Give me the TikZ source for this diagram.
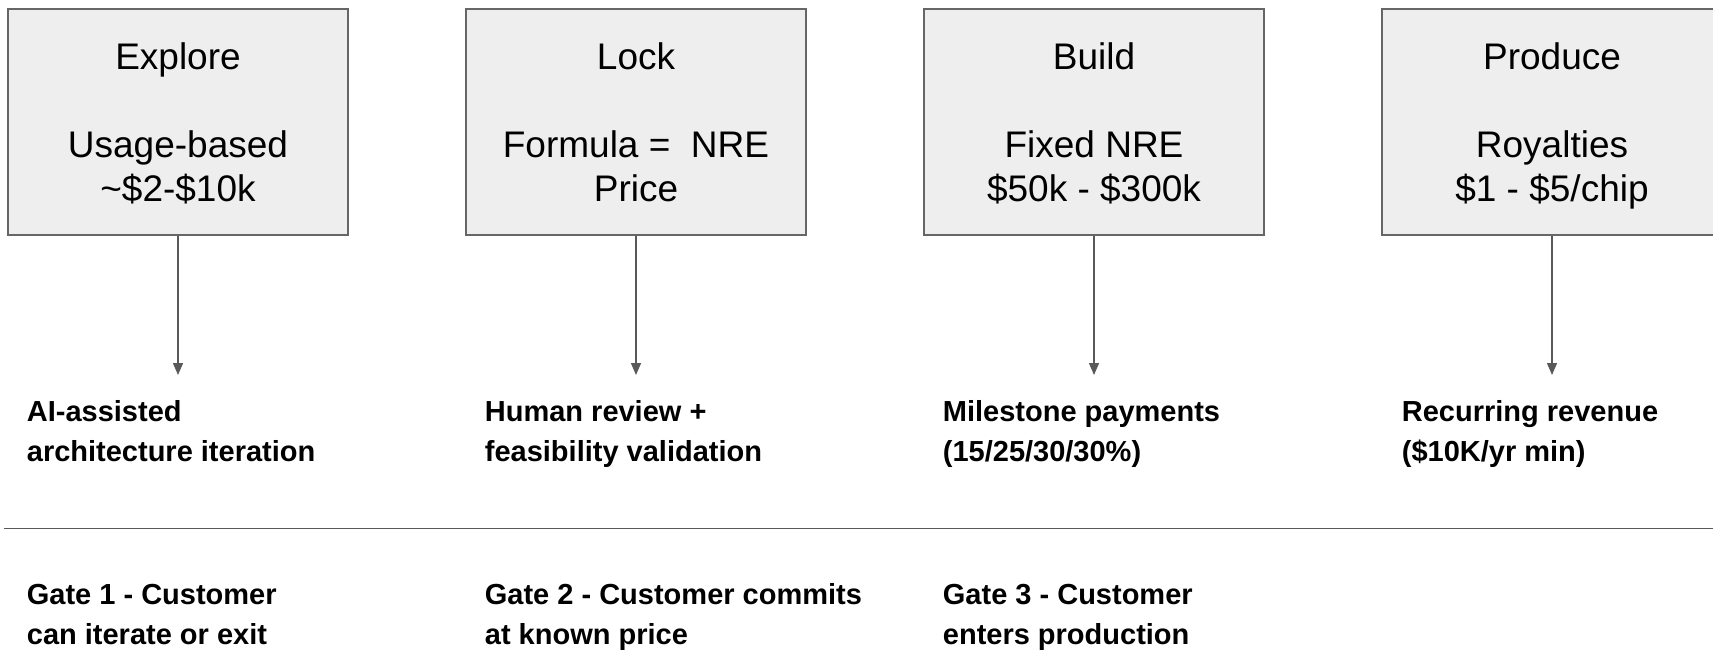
\documentclass[tikz,border=0pt]{standalone}
\usepackage{fontspec}
\setmainfont{Liberation Sans}
\usetikzlibrary{arrows.meta}
\definecolor{boxfill}{HTML}{EEEEEE}
\definecolor{boxline}{HTML}{666666}
\definecolor{conn}{HTML}{595959}
\tikzset{
  stagebox/.style={draw=boxline, fill=boxfill, line width=1.3pt, rectangle,
    minimum width=340pt, minimum height=226pt, inner sep=0pt, align=center,
    text height=159pt, text depth=0pt,
    font=\fontsize{37}{44}\selectfont},
  desc/.style={anchor=base west, inner sep=0pt, align=left,
    font=\fontsize{29}{40}\selectfont\bfseries},
  conn/.style={draw=conn, line width=1.4pt, -{Triangle[length=12pt,width=10pt]}},
  rule/.style={draw=conn, line width=1.4pt}
}
\begin{document}
\begin{tikzpicture}[x=1pt,y=-1pt]
\useasboundingbox (0,0) rectangle (1713,649);
\clip (0,0) rectangle (1713,649);
\node[stagebox] (b1) at (178,122) {Explore\\[0pt]\mbox{}\\Usage-based\\\textasciitilde\$2-\$10k};
\node[stagebox] (b2) at (636,122) {Lock\\[0pt]\mbox{}\\Formula =\ \ NRE\\Price};
\node[stagebox] (b3) at (1094,122) {Build\\[0pt]\mbox{}\\Fixed NRE\\\$50k - \$300k};
\node[stagebox] (b4) at (1552,122) {Produce\\[0pt]\mbox{}\\Royalties\\\$1 - \$5/chip};
\coordinate (e1) at (178,375);
\coordinate (e2) at (636,375);
\coordinate (e3) at (1094,375);
\coordinate (e4) at (1552,375);
\draw[conn] (b1.south) -- (e1);
\draw[conn] (b2.south) -- (e2);
\draw[conn] (b3.south) -- (e3);
\draw[conn] (b4.south) -- (e4);
\node[desc] (d1) at (26.7,461.7) {AI-assisted\\architecture iteration};
\node[desc] (d2) at (484.7,461.7) {Human review +\\feasibility validation};
\node[desc] (d3) at (942.7,461.7) {Milestone payments\\(15/25/30/30\%)};
\node[desc] (d4) at (1401.7,461.7) {Recurring revenue\\(\$10K/yr min)};
\coordinate (r1) at (4,528.3);
\coordinate (r2) at (1713,528.3);
\draw[rule] (r1) -- (r2);
\node[desc] (g1) at (26.7,644.5) {Gate 1 - Customer\\can iterate or exit};
\node[desc] (g2) at (484.7,644.5) {Gate 2 - Customer commits\\at known price};
\node[desc] (g3) at (942.7,644.5) {Gate 3 - Customer\\enters production};
\end{tikzpicture}
\end{document}
